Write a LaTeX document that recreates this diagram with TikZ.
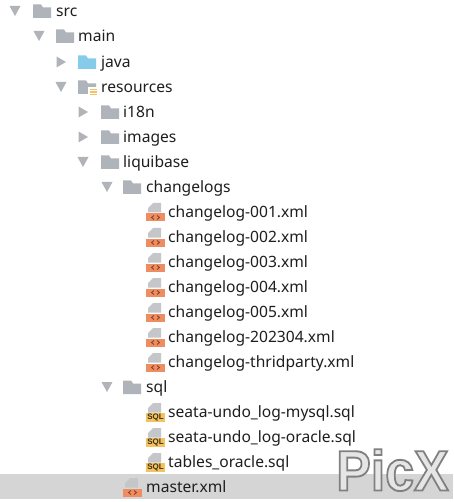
\documentclass[tikz,border=0pt]{standalone}
\usepackage{fontspec}
\setmainfont{Noto Sans}
\newfontfamily\wmfont{Liberation Sans}
\definecolor{fold}{HTML}{AEB4BA}
\definecolor{foldblue}{HTML}{87CBEA}
\definecolor{tri}{HTML}{B0B4B8}
\definecolor{xmlc}{HTML}{EE8C62}
\definecolor{xmld}{HTML}{8A3F1E}
\definecolor{sqlc}{HTML}{F4C25E}
\definecolor{pagec}{HTML}{C4C6C9}
\definecolor{band}{HTML}{D5D5D5}
\definecolor{txt}{HTML}{1E1E1E}
\tikzset{
  lbl/.style={anchor=west,inner sep=0pt,text=txt,font=\fontsize{15.6}{18}\selectfont,text height=11pt,text depth=3.5pt,yshift=-1.8pt},
  wm/.style={anchor=base west,inner sep=0pt,xscale=.91,font=\wmfont\bfseries\fontsize{57}{57}\selectfont},
  x=1pt,y=-1pt
}
\newcommand{\folder}[3][fold]{%
  \fill[#1] (#2,#3-6.5) -- ++(8,0) -- ++(2,3) -- ++(8,0) -- ++(0,10.5) -- ++(-18,0) -- cycle;}
\newcommand{\tridown}[2]{\fill[tri] (#1-5.5,#2-5) -- ++(11,0) -- ++(-5.5,10) -- cycle;}
\newcommand{\triright}[2]{\fill[tri] (#1-4.5,#2-5.5) -- ++(9.5,5.5) -- ++(-9.5,5.5) -- cycle;}
\newcommand{\filepage}[2]{\fill[pagec] (#1+7,#2-9) -- ++(8,0) -- ++(0,9.5) -- ++(-13,0) -- ++(0,-4.5) -- cycle;}
\newcommand{\xmlicon}[2]{\filepage{#1}{#2}
  \fill[xmlc] (#1,#2+1.5) rectangle ++(19,8);
  \draw[xmld,line width=.8pt] (#1+8,#2+3.5) -- ++(-2.5,2) -- ++(2.5,2) (#1+11,#2+3.5) -- ++(2.5,2) -- ++(-2.5,2);}
\newcommand{\sqlicon}[2]{\filepage{#1}{#2}
  \fill[sqlc] (#1,#2+1) rectangle ++(19,9);
  \node[inner sep=0pt,text=black!75!sqlc,font=\wmfont\bfseries\fontsize{8}{8}\selectfont] at (#1+9.5,#2+5.5) {SQL};}
\begin{document}
\begin{tikzpicture}
\useasboundingbox (0,0) rectangle (453,502);
\fill[white] (0,0) rectangle (453,502);
\fill[band] (0,474) rectangle (453,499);
% tree rows
\tridown{15}{11}\folder{33}{11}\node[lbl] (src) at (56,11) {src};
\tridown{39}{36}\folder{56}{36}\node[lbl] (main) at (78,36) {main};
\triright{61}{62}\folder[foldblue]{78}{62}\node[lbl] (java) at (101,62) {java};
\tridown{61}{87}\folder{78}{87}
\fill[white] (88,87) rectangle (97,97);
\foreach \yy in {89,91.5,94}{\fill[sqlc] (89.5,\yy) rectangle ++(7,1.5);}
\node[lbl] (resources) at (101,87) {resources};
\triright{83}{112}\folder{101}{112}\node[lbl] (i18n) at (123,112) {i18n};
\triright{83}{137}\folder{101}{137}\node[lbl] (images) at (123,137) {images};
\tridown{83}{162}\folder{101}{162}\node[lbl] (liquibase) at (123,162) {liquibase};
\tridown{107}{187}\folder{123}{187}\node[lbl] (changelogs) at (146,187) {changelogs};
\xmlicon{146}{212}\node[lbl] (c1) at (168,212) {changelog-001.xml};
\xmlicon{146}{237}\node[lbl] (c2) at (168,237) {changelog-002.xml};
\xmlicon{146}{262}\node[lbl] (c3) at (168,262) {changelog-003.xml};
\xmlicon{146}{287}\node[lbl] (c4) at (168,287) {changelog-004.xml};
\xmlicon{146}{312}\node[lbl] (c5) at (168,312) {changelog-005.xml};
\xmlicon{146}{337}\node[lbl] (c6) at (168,337) {changelog-202304.xml};
\xmlicon{146}{362}\node[lbl] (c7) at (168,362) {changelog-thridparty.xml};
\tridown{107}{387}\folder{123}{387}\node[lbl] (sql) at (146,387) {sql};
\sqlicon{146}{412}\node[lbl] (s1) at (168,412) {seata-undo\_log-mysql.sql};
\sqlicon{146}{437}\node[lbl] (s2) at (168,437) {seata-undo\_log-oracle.sql};
\sqlicon{146}{462}\node[lbl] (s3) at (168,462) {tables\_oracle.sql};
\xmlicon{123}{487}\node[lbl] (master) at (146,487) {master.xml};
% watermark: one stroked and filled text
\node[wm] (wm) at (336,490.5) {\special{pdf:code q 2 Tr 1.9 w 0.5 G 0.9 g}PicX\special{pdf:code Q}};
\end{tikzpicture}
\end{document}
